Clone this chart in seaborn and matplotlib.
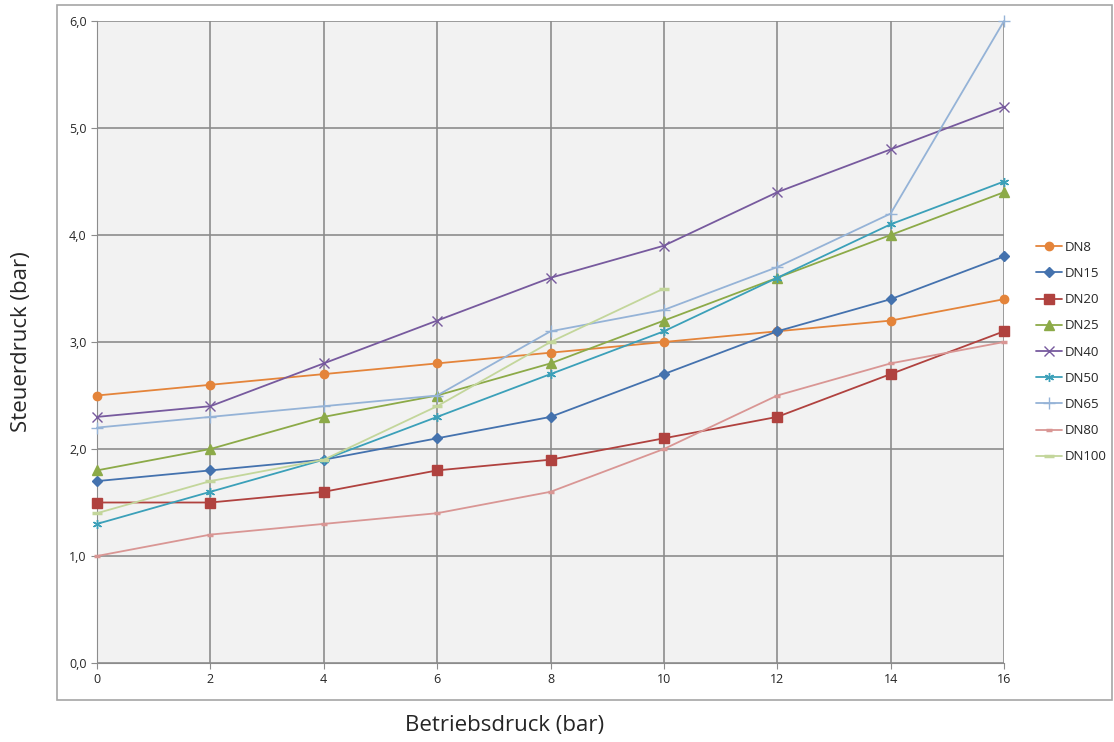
import pandas as pd
import numpy as np
import matplotlib
matplotlib.use('Agg')
import matplotlib.pyplot as plt
import seaborn as sns
from matplotlib.patches import Rectangle
from matplotlib.ticker import FuncFormatter

# Data
betriebsdruck = [0, 2, 4, 6, 8, 10, 12, 14, 16]
dn8 = [2.5, 2.6, 2.7, 2.8, 2.9, 3.0, 3.1, 3.2, 3.4]
dn15 = [1.7, 1.8, 1.9, 2.1, 2.3, 2.7, 3.1, 3.4, 3.8]
dn20 = [1.5, 1.5, 1.6, 1.8, 1.9, 2.1, 2.3, 2.7, 3.1]
dn25 = [1.8, 2.0, 2.3, 2.5, 2.8, 3.2, 3.6, 4.0, 4.4]
dn40 = [2.3, 2.4, 2.8, 3.2, 3.6, 3.9, 4.4, 4.8, 5.2]
dn50 = [1.3, 1.6, 1.9, 2.3, 2.7, 3.1, 3.6, 4.1, 4.5]
dn65 = [2.2, 2.3, 2.4, 2.5, 3.1, 3.3, 3.7, 4.2, 6.0]
dn80 = [1.0, 1.2, 1.3, 1.4, 1.6, 2.0, 2.5, 2.8, 3.0]
dn100 = [1.4, 1.7, 1.9, 2.4, 3.0, 3.5, None, None, None]

series_names = ['DN8', 'DN15', 'DN20', 'DN25', 'DN40', 'DN50', 'DN65', 'DN80', 'DN100']
series_values = [dn8, dn15, dn20, dn25, dn40, dn50, dn65, dn80, dn100]

colors = ['#E4843A', '#4472AE', '#B0423F', '#8CAA48', '#775A9E', '#3BA0B9', '#95B3D7', '#D99694', '#C3D69B']
markers = ['o', 'D', 's', '^', 'x', (6, 2, 0), '+', '_', '_']
msizes = [6, 5, 6.5, 6.5, 6.5, 6.5, 8, 4.5, 7]
mews = [1, 1, 1, 1, 1, 1, 1, 2.5, 2.5]

rows = []
for name, vals in zip(series_names, series_values):
    for x, v in zip(betriebsdruck, vals):
        if v is not None:
            rows.append({'Betriebsdruck': x, 'Steuerdruck': v, 'Serie': name})
df = pd.DataFrame(rows)

sns.set_style('white')
plt.rcParams['font.family'] = ['Open Sans', 'DejaVu Sans']

fig = plt.figure(figsize=(11.14, 7.42), dpi=100)
ax = fig.add_axes([97 / 1114, 1 - 663 / 742, (1004 - 97) / 1114, (663 - 21) / 742])
ax.set_facecolor('#F2F2F2')

for name, c, m, ms, mew in zip(series_names, colors, markers, msizes, mews):
    sub = df[df['Serie'] == name]
    sns.lineplot(data=sub, x='Betriebsdruck', y='Steuerdruck', ax=ax, color=c, marker=m,
                 markersize=ms, markeredgewidth=mew, markeredgecolor=c, linewidth=1.3,
                 label=name, zorder=3, clip_on=False)

ax.set_xlim(0, 16)
ax.set_ylim(0, 6)
ax.set_xticks(betriebsdruck)
ax.set_yticks(np.arange(0, 7, 1))
ax.yaxis.set_major_formatter(FuncFormatter(lambda v, p: ('%.1f' % v).replace('.', ',')))
ax.grid(True, color='#8C8C8C', linewidth=1.2, zorder=1)
ax.set_axisbelow(True)
for s in ax.spines.values():
    s.set_visible(False)
ax.spines['left'].set_visible(True)
ax.spines['bottom'].set_visible(True)
ax.spines['left'].set_color('#8C8C8C')
ax.spines['bottom'].set_color('#8C8C8C')
ax.tick_params(axis='both', length=4, color='#8C8C8C', labelsize=9, direction='out', bottom=True, left=True)
ax.set_xlabel('')
ax.set_ylabel('')

fig.text(22 / 1114, 1 - 342 / 742, 'Steuerdruck (bar)', rotation=90, ha='center', va='center', fontsize=16)
fig.text(505 / 1114, 1 - 725 / 742, 'Betriebsdruck (bar)', ha='center', va='center', fontsize=16)

# outer chart frame
fig.patches.append(Rectangle((57 / 1114, 1 - 700 / 742), (1112 - 57) / 1114, (700 - 5) / 742,
                             transform=fig.transFigure, fill=False, edgecolor='#A6A6A6', linewidth=1.2))

ax.legend(loc='upper left', bbox_to_anchor=(1024 / 1114, 1 - 229 / 742), bbox_transform=fig.transFigure,
          frameon=False, fontsize=9.5, handlelength=2.0, labelspacing=1.0, handletextpad=0.2,
          borderaxespad=0.5)

fig.savefig('out.png', dpi=100)
